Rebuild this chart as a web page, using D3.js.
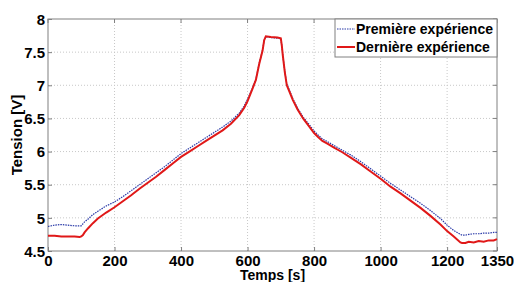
<!DOCTYPE html>
<html>
<head>
<meta charset="utf-8">
<script src="https://cdn.jsdelivr.net/npm/d3@7"></script>
<style>
  html, body { margin: 0; padding: 0; background: #fff; }
  text { font-family: "Liberation Sans", Arial, sans-serif; font-weight: bold; fill: #000; }
</style>
</head>
<body>
<svg id="chart" width="514" height="282"></svg>
<script>
const timeValues = [0,20,40,60,80,95,100,105,110,120,135,150,175,200,225,250,275,300,325,350,375,400,425,450,475,500,525,550,575,590,600,615,625,635,645,650,655,670,690,700,703,706,712,718,728,736,750,767,785,800,812,825,840,860,885,910,940,970,1000,1030,1060,1090,1120,1150,1180,1200,1220,1240,1245,1255,1265,1280,1295,1310,1325,1340,1350];
const premiereValues = [4.87,4.89,4.90,4.89,4.88,4.88,4.88,4.91,4.94,4.98,5.05,5.10,5.18,5.24,5.32,5.41,5.50,5.59,5.68,5.77,5.87,5.97,6.05,6.13,6.21,6.29,6.37,6.46,6.58,6.69,6.79,6.96,7.09,7.33,7.53,7.68,7.73,7.72,7.71,7.70,7.60,7.45,7.21,7.02,6.90,6.80,6.66,6.52,6.41,6.31,6.25,6.19,6.15,6.09,6.02,5.95,5.85,5.74,5.63,5.52,5.42,5.32,5.22,5.11,4.99,4.89,4.81,4.75,4.74,4.74,4.75,4.76,4.76,4.77,4.77,4.78,4.78];
const derniereValues = [4.73,4.73,4.72,4.72,4.72,4.71,4.72,4.74,4.78,4.84,4.92,4.99,5.08,5.16,5.25,5.34,5.44,5.53,5.62,5.72,5.82,5.92,6.00,6.08,6.16,6.24,6.32,6.42,6.55,6.66,6.76,6.95,7.08,7.32,7.52,7.68,7.74,7.73,7.72,7.71,7.60,7.45,7.20,7.00,6.88,6.78,6.64,6.50,6.38,6.28,6.22,6.16,6.12,6.06,5.99,5.91,5.81,5.70,5.59,5.47,5.37,5.26,5.15,5.03,4.90,4.80,4.72,4.63,4.62,4.62,4.64,4.63,4.65,4.64,4.66,4.66,4.68];
const xTicks = [0,200,400,600,800,1000,1200,1350];
const yTicks = [4.5,5,5.5,6,6.5,7,7.5,8];
const seriesNames = ["Première expérience","Dernière expérience"];

const svg = d3.select("#chart");
const L = 48, R = 497, T = 19, B = 251;
const x = d3.scaleLinear().domain([0,1350]).range([L,R]);
const y = d3.scaleLinear().domain([4.5,8]).range([B,T]);

// grid
const grid = svg.append("g");
grid.selectAll("line.vx").data(xTicks.filter(d => d>0 && d<1350)).enter().append("line")
  .attr("x1", d=>x(d)).attr("x2", d=>x(d)).attr("y1", T).attr("y2", B)
  .attr("stroke", "#c8c8c8").attr("stroke-width", 1).attr("stroke-dasharray", "1,2");
grid.selectAll("line.hy").data(yTicks.filter(d => d>4.5 && d<8)).enter().append("line")
  .attr("x1", L).attr("x2", R).attr("y1", d=>y(d)).attr("y2", d=>y(d))
  .attr("stroke", "#c8c8c8").attr("stroke-width", 1).attr("stroke-dasharray", "1,2");

// axes
const xAxis = svg.append("g").attr("transform", `translate(0,${B})`)
  .call(d3.axisBottom(x).tickValues(xTicks).tickSize(-4).tickPadding(4).tickFormat(d3.format("d")));
const yAxis = svg.append("g").attr("transform", `translate(${L},0)`)
  .call(d3.axisLeft(y).tickValues(yTicks).tickSize(-4).tickPadding(3).tickFormat(d => String(d)));
[xAxis, yAxis].forEach(a => {
  a.select(".domain").remove();
  a.selectAll(".tick line").attr("stroke", "#808080");
  a.selectAll("text").attr("font-size", 15).attr("font-family", "Liberation Sans, Arial, sans-serif").attr("font-weight", "bold").attr("fill", "#000");
});
yAxis.selectAll("text").attr("dy", "0.35em");
// top/right ticks
svg.append("g").selectAll("line").data(xTicks).enter().append("line")
  .attr("x1", d=>x(d)).attr("x2", d=>x(d)).attr("y1", T).attr("y2", T+4).attr("stroke", "#808080");
svg.append("g").selectAll("line").data(yTicks).enter().append("line")
  .attr("x1", R-4).attr("x2", R).attr("y1", d=>y(d)).attr("y2", d=>y(d)).attr("stroke", "#808080");

// box
svg.append("rect").attr("x", L).attr("y", T).attr("width", R-L).attr("height", B-T)
  .attr("fill", "none").attr("stroke", "#808080").attr("stroke-width", 1);

// lines
const pts1 = timeValues.map((t,i) => [t, premiereValues[i]]);
const pts2 = timeValues.map((t,i) => [t, derniereValues[i]]);
const line = d3.line().x(d => x(d[0])).y(d => y(d[1]));
svg.append("path").datum(pts1).attr("d", line).attr("fill", "none")
  .attr("stroke", "#2a3aa8").attr("stroke-width", 1.2).attr("stroke-dasharray", "1.5,1");
svg.append("path").datum(pts2).attr("d", line).attr("fill", "none")
  .attr("stroke", "#e01818").attr("stroke-width", 2);

// legend
const lg = svg.append("g");
lg.append("rect").attr("x", 335).attr("y", T).attr("width", R-335).attr("height", 38)
  .attr("fill", "#fff").attr("stroke", "#808080").attr("stroke-width", 1);
lg.append("line").attr("x1", 337).attr("x2", 355).attr("y1", 29).attr("y2", 29)
  .attr("stroke", "#2a3aa8").attr("stroke-width", 1.2).attr("stroke-dasharray", "1.5,1");
lg.append("line").attr("x1", 337).attr("x2", 355).attr("y1", 47).attr("y2", 47)
  .attr("stroke", "#e01818").attr("stroke-width", 2);
lg.append("text").attr("x", 356).attr("y", 34).attr("font-size", 14).text(seriesNames[0]);
lg.append("text").attr("x", 356).attr("y", 52).attr("font-size", 14).text(seriesNames[1]);

// axis titles
svg.append("text").attr("x", (L+R)/2).attr("y", 280).attr("text-anchor", "middle")
  .attr("font-size", 14).text("Temps [s]");
svg.append("text").attr("transform", `translate(22,${(T+B)/2}) rotate(-90)`).attr("text-anchor", "middle")
  .attr("font-size", 15).text("Tension [V]");
</script>
</body>
</html>
